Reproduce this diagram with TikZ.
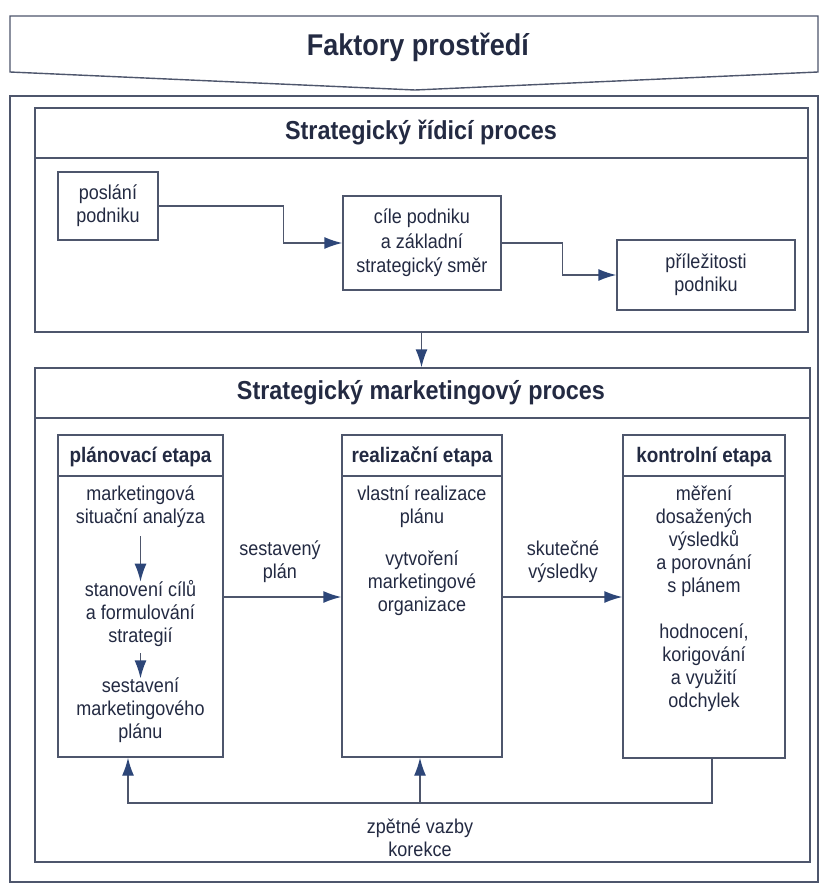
\documentclass[tikz,border=0pt]{standalone}
\usepackage{fontspec}
\setmainfont{Liberation Sans}[FakeStretch=0.9]
\usetikzlibrary{arrows.meta}
\definecolor{textc}{RGB}{35,42,66}
\definecolor{linec}{RGB}{78,86,108}
\definecolor{arrc}{RGB}{45,70,120}
\begin{document}
\begin{tikzpicture}[x=1pt,y=-1pt,
  line/.style={draw=linec, line width=1.4pt},
  box/.style={line, rectangle, inner sep=0pt},
  body/.style={text=textc, align=center, font=\fontsize{20}{23}\selectfont, inner sep=1pt},
  head/.style={text=textc, font=\bfseries\fontsize{21}{24}\selectfont, inner sep=0pt},
  title/.style={text=textc, font=\bfseries\fontsize{26}{30}\selectfont, inner sep=0pt},
  arr/.style={line, -{Latex[length=18pt,width=12pt,color=arrc]}}]
\useasboundingbox (0,0) rectangle (821,886);
\fill[white] (0,0) rectangle (821,886);

% banner
\draw[line] (10,16) -- (818,16) -- (818,72) -- (415,90) -- (10,72) -- cycle;
\node[title, font=\bfseries\fontsize{30}{34}\selectfont] (faktory) at (418,47) {Faktory prostředí};

% outer frame
\draw[line] (10,96) rectangle (818,882);

% strategic management process
\node[box, minimum width=773pt, minimum height=224pt] (ridici) at (421.5,220) {};
\draw[line] (ridici.west |- 0,158) -- (ridici.east |- 0,158);
\node[title] (ridicit) at (421,133) {Strategický řídicí proces};

\node[box, minimum width=100pt, minimum height=68pt] (posl) at (108,206) {};
\node[body] (poslt) at (posl) {poslání\\podniku};
\node[box, minimum width=158pt, minimum height=94pt] (cile) at (422,243) {};
\node[body, font=\fontsize{20}{24.5}\selectfont] (cilet) at (cile) {cíle podniku\\a základní\\strategický směr};
\node[box, minimum width=178pt, minimum height=70pt] (prile) at (706,275) {};
\node[body] (prilet) at (prile) {příležitosti\\podniku};

\draw[arr] (posl.east) -- ++(125,0) |- (cile.west);
\draw[arr] (cile.east) -- ++(61,0) |- (prile.west);

% marketing process
\node[box, minimum width=775pt, minimum height=494pt] (mkt) at (422.5,615) {};
\draw[line] (mkt.west |- 0,418) -- (mkt.east |- 0,418);
\node[title] (mktt) at (421,393) {Strategický marketingový proces};
\draw[arr] (ridici.south) -- (ridici.south |- mkt.north);

% stage boxes
\node[box, minimum width=165pt, minimum height=322pt] (plan) at (140.5,596) {};
\node[box, minimum width=160pt, minimum height=322pt] (real) at (422,596) {};
\node[box, minimum width=162pt, minimum height=323pt] (kontr) at (704,596.5) {};
\draw[line] (plan.west |- 0,476) -- (plan.east |- 0,476);
\draw[line] (real.west |- 0,476) -- (real.east |- 0,476);
\draw[line] (kontr.west |- 0,476) -- (kontr.east |- 0,476);
\node[head] (plant) at (140.5,457) {plánovací etapa};
\node[head] (realt) at (422,457) {realizační etapa};
\node[head] (kontrt) at (704,457) {kontrolní etapa};

% planning content
\node[body] (pa1) at (140.5,507) {marketingová\\situační analýza};
\node[body] (pa2) at (140.5,614) {stanovení cílů\\a formulování\\strategií};
\node[body] (pa3) at (140.5,710) {sestavení\\marketingového\\plánu};
\draw[arr] (pa1.south) ++(0,7) -- ([yshift=-2pt]pa2.north);
\draw[arr] (pa2.south) ++(0,5) -- ([yshift=-2pt]pa3.north);

% realization content
\node[body] (ra1) at (422,507) {vlastní realizace\\plánu};
\node[body] (ra2) at (422,583) {vytvoření\\marketingové\\organizace};

% control content
\node[body] (ka1) at (704,541) {měření\\dosažených\\výsledků\\a porovnání\\s plánem};
\node[body] (ka2) at (704,668) {hodnocení,\\korigování\\a využití\\odchylek};

% stage arrows
\draw[arr] (plan.east |- 0,597) -- (real.west |- 0,597);
\node[body] (sest) at (280,562) {sestavený\\plán};
\draw[arr] (real.east |- 0,597) -- (kontr.west |- 0,597);
\node[body] (skut) at (563,562) {skutečné\\výsledky};

% feedback
\coordinate (fbR) at (712,803);
\coordinate (fbL) at (128,803);
\coordinate (fbM) at (420,803);
\draw[arr] (kontr.south -| fbR) -- (fbR) -- (fbL) -- (fbL |- plan.south);
\draw[arr] (fbM) -- (fbM |- real.south);
\node[body] (zpet) at (420,838) {zpětné vazby\\korekce};
\end{tikzpicture}
\end{document}
